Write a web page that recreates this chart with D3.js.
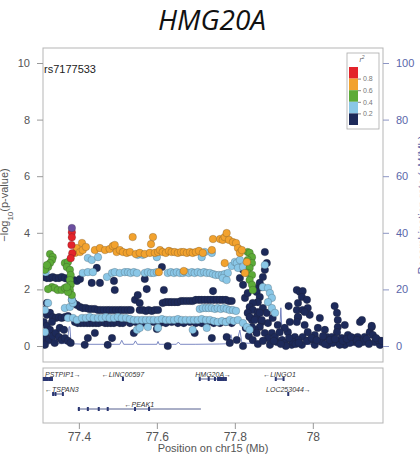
<!DOCTYPE html>
<html>
<head>
<meta charset="utf-8">
<script src="https://cdn.jsdelivr.net/npm/d3@7"></script>
<style>
  body { margin: 0; background: #fff; }
  svg { display: block; font-family: "Liberation Sans", Arial, sans-serif; }
</style>
</head>
<body>
<svg id="chart" width="420" height="462"></svg>
<script>
// SNPs as [position (Mb), -log10 p], split by LD r2 class with the lead SNP
var leadSnp = [[77.382, 4.17]]
var leadName = 'rs7177533'

var ldRed = [[77.382, 4.02], [77.382, 3.84], [77.381, 3.57], [77.383, 3.28], [77.379, 3.10]]

var ldOrange = [
  [77.390, 3.29], [77.395, 3.46], [77.403, 3.32], [77.408, 3.64], [77.410, 3.39], [77.418, 3.50],
  [77.441, 3.39], [77.454, 3.46], [77.467, 3.39], [77.479, 3.43], [77.487, 3.53], [77.492, 3.57],
  [77.497, 3.32], [77.505, 3.39], [77.513, 3.32], [77.523, 3.29], [77.531, 3.32], [77.538, 3.85],
  [77.546, 3.25], [77.556, 3.29], [77.569, 3.25], [77.582, 3.29], [77.585, 3.60], [77.590, 3.85],
  [77.595, 3.29], [77.603, 3.32], [77.608, 3.39], [77.615, 3.32], [77.623, 3.29], [77.631, 3.36],
  [77.638, 3.32], [77.646, 3.32], [77.654, 3.29], [77.662, 3.32], [77.669, 3.32], [77.677, 3.29],
  [77.685, 3.32], [77.692, 3.29], [77.700, 3.32], [77.708, 3.36], [77.718, 3.29], [77.741, 3.39],
  [77.744, 3.78], [77.762, 3.78], [77.769, 3.75], [77.774, 3.85], [77.779, 3.99], [77.785, 3.75],
  [77.795, 3.67], [77.803, 3.64], [77.808, 3.46], [77.813, 3.29], [77.818, 3.39], [77.826, 2.58],
  [77.831, 2.97], [77.774, 2.93], [77.605, 2.61], [77.669, 2.65]
]

var ldGreen = [
  [77.326, 3.25], [77.333, 3.14], [77.331, 3.04], [77.326, 2.93], [77.321, 2.79], [77.313, 2.69], [77.318, 2.86],
  [77.331, 2.08], [77.338, 2.05], [77.346, 1.98], [77.356, 1.98], [77.364, 2.05], [77.321, 2.01],
  [77.364, 2.93], [77.372, 2.97], [77.369, 2.79], [77.377, 2.69], [77.379, 2.51], [77.377, 2.33],
  [77.379, 2.16], [77.377, 1.98], [77.382, 1.80], [77.372, 1.91], [77.369, 2.08],
  [77.833, 3.32], [77.838, 3.29], [77.844, 3.14], [77.833, 3.04], [77.844, 2.93], [77.838, 2.76],
  [77.833, 2.58], [77.844, 2.51], [77.838, 2.33], [77.844, 2.16], [77.846, 1.98]
]

var ldLightBlue = [
  [77.423, 3.11], [77.433, 3.04], [77.449, 3.14], [77.551, 3.22], [77.564, 3.22], [77.600, 3.14],
  [77.715, 3.14], [77.723, 3.32], [77.741, 3.29],
  [77.315, 2.61], [77.410, 2.58], [77.423, 2.61], [77.436, 2.61], [77.472, 2.44], [77.485, 2.58],
  [77.492, 2.61], [77.505, 2.58], [77.518, 2.61], [77.526, 2.61], [77.533, 2.58], [77.541, 2.61],
  [77.549, 2.58], [77.569, 2.58], [77.577, 2.61], [77.585, 2.58], [77.592, 2.58], [77.600, 2.61],
  [77.628, 2.58], [77.636, 2.61], [77.644, 2.58], [77.651, 2.61], [77.659, 2.58], [77.667, 2.58],
  [77.674, 2.61], [77.682, 2.58], [77.690, 2.61], [77.697, 2.58], [77.705, 2.61], [77.713, 2.58],
  [77.721, 2.61], [77.728, 2.58], [77.736, 2.58], [77.744, 2.54], [77.751, 2.51], [77.759, 2.51],
  [77.767, 2.51], [77.774, 2.54], [77.782, 2.58], [77.769, 2.40], [77.779, 2.33], [77.792, 2.83],
  [77.800, 2.97], [77.805, 2.93], [77.813, 3.04], [77.808, 2.76], [77.821, 2.79],
  [77.872, 2.08], [77.885, 2.05], [77.890, 1.87], [77.895, 1.70], [77.885, 1.55], [77.877, 2.86],
  [77.895, 1.34], [77.903, 1.17],
  [77.313, 1.27], [77.321, 1.52], [77.313, 0.49], [77.364, 1.34], [77.377, 1.38], [77.385, 1.52],
  [77.382, 1.63], [77.372, 0.99], [77.385, 0.99], [77.395, 0.92], [77.408, 0.99], [77.418, 0.99],
  [77.428, 1.02], [77.438, 0.99], [77.449, 0.99], [77.459, 0.99], [77.469, 1.02], [77.479, 0.99],
  [77.490, 0.99], [77.500, 1.02], [77.510, 0.99], [77.521, 0.99], [77.531, 0.95], [77.541, 0.92],
  [77.551, 0.92], [77.562, 0.92], [77.572, 0.92], [77.582, 0.92], [77.592, 0.92], [77.603, 0.92],
  [77.613, 0.95], [77.623, 0.92], [77.633, 0.92], [77.644, 0.92], [77.654, 0.95], [77.664, 0.92],
  [77.674, 0.92], [77.685, 0.92], [77.695, 0.92], [77.705, 0.92], [77.715, 0.95], [77.726, 0.92],
  [77.736, 0.92], [77.746, 0.88], [77.756, 0.85], [77.767, 0.88], [77.777, 0.85], [77.787, 0.92],
  [77.797, 0.88], [77.549, 0.57], [77.556, 0.64], [77.577, 0.67], [77.603, 0.64], [77.692, 0.57],
  [77.728, 0.64], [77.808, 0.92], [77.821, 0.81], [77.831, 0.67], [77.838, 0.57],
  [77.710, 1.31], [77.718, 1.34], [77.726, 1.34], [77.733, 1.34], [77.741, 1.34], [77.749, 1.31],
  [77.756, 1.34], [77.764, 1.31], [77.772, 1.34], [77.779, 1.31], [77.787, 1.27], [77.795, 1.27],
  [77.803, 1.24]
]

var ldNavy = [
  // left shoulder
  [77.310, 2.44], [77.318, 2.40], [77.326, 2.40], [77.333, 2.44], [77.341, 2.40], [77.349, 2.40],
  [77.356, 2.44], [77.364, 2.40], [77.372, 2.37], [77.379, 2.37], [77.387, 2.33], [77.395, 2.30],
  [77.403, 2.37],
  [77.318, 1.52], [77.310, 1.27], [77.318, 1.10], [77.326, 1.17], [77.333, 1.02], [77.341, 0.99],
  [77.349, 1.02], [77.356, 0.99], [77.364, 1.02], [77.372, 1.06], [77.310, 0.85], [77.318, 0.71],
  [77.326, 0.57], [77.315, 0.42], [77.310, 0.28], [77.323, 0.21], [77.333, 0.35], [77.341, 0.46],
  [77.349, 0.32], [77.356, 0.21], [77.364, 0.28], [77.372, 0.18], [77.379, 0.11], [77.338, 0.11],
  [77.313, 0.04], [77.351, 0.64], [77.362, 0.57], [77.331, 0.85],
  [77.382, 1.63], [77.387, 1.52], [77.395, 1.45], [77.403, 1.38],
  // middle bands
  [77.410, 1.34], [77.418, 1.34], [77.426, 1.31], [77.433, 1.31], [77.441, 1.31], [77.449, 1.27],
  [77.456, 1.27], [77.464, 1.27], [77.472, 1.27], [77.479, 1.27], [77.487, 1.27], [77.495, 1.27],
  [77.503, 1.27], [77.510, 1.27], [77.518, 1.27], [77.526, 1.27], [77.533, 1.27], [77.556, 1.27],
  [77.564, 1.27], [77.572, 1.24], [77.579, 1.27], [77.587, 1.24], [77.595, 1.27], [77.603, 1.27],
  [77.615, 1.52], [77.623, 1.55], [77.631, 1.55], [77.638, 1.55], [77.646, 1.55], [77.654, 1.55],
  [77.662, 1.59], [77.669, 1.59], [77.677, 1.59], [77.685, 1.59], [77.692, 1.59], [77.700, 1.63],
  [77.708, 1.63], [77.715, 1.63], [77.723, 1.63], [77.731, 1.63], [77.738, 1.63], [77.746, 1.63],
  [77.754, 1.63], [77.762, 1.63], [77.769, 1.63], [77.777, 1.63], [77.785, 1.59], [77.792, 1.59],
  [77.390, 0.85], [77.397, 0.81], [77.405, 0.81], [77.413, 0.81], [77.421, 0.81], [77.428, 0.81],
  [77.436, 0.81], [77.444, 0.81], [77.451, 0.81], [77.459, 0.85], [77.467, 0.81], [77.474, 0.81],
  [77.482, 0.81], [77.490, 0.81], [77.497, 0.85], [77.505, 0.81], [77.513, 0.81], [77.531, 0.81],
  [77.546, 0.85], [77.562, 0.81], [77.577, 0.81], [77.592, 0.85], [77.608, 0.81], [77.623, 0.81],
  [77.638, 0.85], [77.654, 0.81], [77.669, 0.81], [77.685, 0.85], [77.700, 0.81], [77.715, 0.81],
  [77.731, 0.85], [77.746, 0.81], [77.762, 0.81], [77.777, 0.85], [77.792, 0.81],
  [77.446, 2.76], [77.433, 2.23], [77.454, 2.23], [77.490, 2.30], [77.492, 1.98], [77.569, 2.37],
  [77.574, 2.01], [77.613, 2.79], [77.618, 1.98], [77.544, 1.63], [77.551, 1.80], [77.556, 1.52],
  [77.744, 1.94], [77.423, 0.28], [77.441, 0.46], [77.485, 0.28], [77.415, 0.04], [77.541, 0.46],
  [77.600, 0.60], [77.628, 0.00], [77.697, 0.46], [77.741, 0.28], [77.474, 0.04], [77.779, 0.32],
  [77.787, 0.11], [77.805, 0.21], [77.821, 0.00],
  // right cluster
  [77.877, 3.32], [77.882, 2.93], [77.877, 2.69], [77.872, 2.44], [77.864, 2.23], [77.869, 2.08],
  [77.851, 2.05], [77.856, 1.91], [77.864, 1.73], [77.859, 1.55], [77.846, 1.52], [77.838, 1.38],
  [77.846, 1.27], [77.859, 1.20], [77.872, 1.34], [77.882, 1.17], [77.856, 1.02], [77.844, 0.92],
  [77.869, 0.85], [77.885, 0.81], [77.864, 0.67], [77.851, 0.57], [77.877, 0.46], [77.895, 0.46],
  [77.885, 0.28], [77.908, 0.14], [77.921, 0.21], [77.928, 0.11], [77.946, 0.21], [77.954, 0.32],
  [77.936, 0.49], [77.928, 0.64], [77.941, 0.85], [77.962, 1.02], [77.833, 1.17], [77.838, 1.02],
  [77.851, 0.92], [77.844, 0.67], [77.856, 0.46], [77.864, 1.17], [77.869, 0.92], [77.826, 1.70],
  [77.833, 1.87], [77.821, 2.16], [77.813, 2.40], [77.828, 0.64], [77.836, 0.35], [77.846, 0.21],
  [77.859, 0.07], [77.872, 0.18], [77.890, 0.04], [77.903, 0.32], [77.915, 0.49], [77.910, 0.74],
  [77.897, 0.99], [77.938, 1.41], [77.821, 2.69],
  // right tail
  [77.959, 1.98], [77.967, 1.91], [77.974, 1.94], [77.972, 1.73], [77.985, 1.63], [77.962, 1.52],
  [77.959, 1.27], [77.974, 1.27], [77.987, 1.34], [77.992, 1.10], [77.979, 1.20], [77.962, 1.02],
  [77.959, 0.85], [77.979, 0.74], [77.987, 0.49], [77.974, 0.32], [77.962, 0.21], [78.005, 0.39],
  [78.018, 0.99], [78.013, 0.64], [78.031, 0.57], [78.036, 0.32], [78.023, 0.14], [78.056, 1.41],
  [78.062, 1.17], [78.064, 0.92], [78.064, 0.67], [78.082, 0.74], [78.062, 0.49], [78.049, 0.32],
  [78.074, 0.28], [78.090, 0.39], [78.103, 0.28], [78.121, 0.85], [78.115, 0.32], [78.133, 0.32],
  [78.146, 0.49], [78.151, 0.67], [78.154, 0.39], [78.159, 0.14], [78.172, 0.04], [78.141, 0.14],
  [78.082, 0.04], [78.038, 0.04], [78.005, 0.04], [77.972, 0.04], [78.064, 0.14], [78.108, 0.14],
  [78.128, 0.14], [78.126, 0.92], [78.151, 0.71], [77.992, 0.21], [78.095, 0.11], [78.167, 0.21],
  [78.051, 0.11], [77.946, 0.04], [77.931, 0.00], [78.031, 0.07], [78.069, 0.04],
  [77.985, 0.18], [77.997, 0.28], [78.010, 0.21], [78.026, 0.35], [78.044, 0.21], [78.057, 0.25],
  [78.077, 0.18], [78.087, 0.25], [78.098, 0.32], [78.113, 0.21], [78.118, 0.07], [78.138, 0.25],
  [78.144, 0.07], [78.162, 0.28], [78.177, 0.18], [77.949, 0.14], [77.956, 0.07], [77.964, 0.11],
  [77.900, 0.18], [77.918, 0.07], [77.939, 0.28]
]

// recombination rate (cM/Mb)
var recombPos = [77.308, 77.340, 77.370, 77.375, 77.377, 77.380, 77.420, 77.470, 77.505, 77.510, 77.515,
  77.540, 77.545, 77.550, 77.600, 77.603, 77.606, 77.650, 77.655, 77.660, 77.700, 77.760, 77.785,
  77.790, 77.795, 77.805, 77.813, 77.818, 77.830, 77.860, 77.880, 77.905, 77.915, 77.918, 77.922,
  77.935, 77.960, 78.000, 78.050, 78.100, 78.180]
var recombRate = [0.8, 0.8, 0.9, 6.8, 6.8, 0.8, 0.6, 0.6, 0.6, 2.0, 0.6, 0.6, 1.8, 0.6, 0.6, 1.6, 0.6,
  0.6, 1.4, 0.6, 0.6, 0.7, 0.8, 4.0, 1.0, 1.5, 5.6, 1.2, 1.0, 0.8, 3.5, 4.5, 4.5, 13.5, 2.0, 1.0,
  0.6, 0.5, 0.5, 0.4, 0.4]

// genes
var geneNames = ['PSTPIP1', 'TSPAN3', 'LINC00597', 'PEAK1', 'HMG20A', 'LINGO1', 'LOC253044']
var geneStart = [77.310, 77.331, 77.512, 77.397, 77.710, 77.903, 77.936]
var geneEnd = [77.331, 77.359, 77.514, 77.713, 77.779, 77.926, 77.939]
var geneStrand = ['+', '-', '-', '-', '+', '-', '+']
var geneRow = [0, 1, 0, 2, 0, 0, 1]
var geneExons = [
  [77.310, 77.313, 77.316, 77.320, 77.324, 77.328, 77.331],
  [77.334, 77.340, 77.359],
  [77.513],
  [77.400, 77.423, 77.451, 77.474, 77.544, 77.580],
  [77.710, 77.733, 77.749, 77.757, 77.762, 77.767, 77.772, 77.777],
  [77.905, 77.925],
  [77.937]
]

var yTicks = [0, 2, 4, 6, 8, 10]
var recombTicks = [0, 20, 40, 60, 80, 100]
var xTicks = [77.4, 77.6, 77.8, 78]
var legendBreaks = [1, 0.8, 0.6, 0.4, 0.2, 0]
var legendLabels = ['0.8', '0.6', '0.4', '0.2']

var colors = {
  lead: '#6b4f9f',
  red: '#e3232b',
  orange: '#f2a22e',
  green: '#5cab37',
  lightblue: '#8ac7e7',
  navy: '#1d2a5a'
}
var recombColor = '#5d6db4'

var svg = d3.select('#chart')

var plot = { left: 43, right: 383, top: 48, bottom: 362 }
var genePanel = { top: 368, bottom: 423 }

var x = d3.scaleLinear().domain([77.308, 78.18]).range([plot.left, plot.right])
var y = d3.scaleLinear().domain([0, 10]).range([346, 63])
var yRec = d3.scaleLinear().domain([0, 100]).range([346, 63])

// title
svg.append('text')
  .attr('x', 212)
  .attr('y', 30)
  .attr('text-anchor', 'middle')
  .style('font-family', '"Open Sans", sans-serif')
  .style('font-style', 'italic')
  .style('font-size', '28px')
  .attr('fill', '#111')
  .text('HMG20A')

svg.append('defs').append('clipPath')
  .attr('id', 'plotclip')
  .append('rect')
  .attr('x', plot.left).attr('y', plot.top)
  .attr('width', plot.right - plot.left).attr('height', plot.bottom - plot.top)

// panel frames
svg.append('rect')
  .attr('x', plot.left).attr('y', plot.top)
  .attr('width', plot.right - plot.left).attr('height', plot.bottom - plot.top)
  .attr('fill', 'none').attr('stroke', '#b5b5b5').attr('stroke-width', 1)

svg.append('rect')
  .attr('x', plot.left).attr('y', genePanel.top)
  .attr('width', plot.right - plot.left).attr('height', genePanel.bottom - genePanel.top)
  .attr('fill', 'none').attr('stroke', '#b5b5b5').attr('stroke-width', 1)

// axes
var leftAxis = svg.append('g')
  .attr('transform', 'translate(' + plot.left + ',0)')
  .call(d3.axisLeft(y).tickValues(yTicks).tickSizeInner(6).tickSizeOuter(0).tickPadding(7))
leftAxis.select('.domain').remove()
leftAxis.selectAll('line').attr('stroke', '#999')
leftAxis.selectAll('text').attr('fill', '#555').style('font-size', '11px')

var rightAxis = svg.append('g')
  .attr('transform', 'translate(' + plot.right + ',0)')
  .call(d3.axisRight(yRec).tickValues(recombTicks).tickSizeInner(6).tickSizeOuter(0).tickPadding(7))
rightAxis.select('.domain').remove()
rightAxis.selectAll('line').attr('stroke', '#8d96c4')
rightAxis.selectAll('text').attr('fill', '#5a66aa').style('font-size', '11px')

var bottomAxis = svg.append('g')
  .attr('transform', 'translate(0,' + genePanel.bottom + ')')
  .call(d3.axisBottom(x).tickValues(xTicks).tickFormat(d3.format('')).tickSizeInner(6).tickSizeOuter(0).tickPadding(3))
bottomAxis.select('.domain').remove()
bottomAxis.selectAll('line').attr('stroke', '#999')
bottomAxis.selectAll('text').attr('fill', '#555').style('font-size', '12px')

svg.append('text')
  .attr('x', 213).attr('y', 452)
  .attr('text-anchor', 'middle')
  .attr('fill', '#555')
  .style('font-size', '11px')
  .text('Position on chr15 (Mb)')

var ylab = svg.append('text')
  .attr('transform', 'translate(8,205) rotate(-90)')
  .attr('text-anchor', 'middle')
  .attr('fill', '#555')
  .style('font-size', '11px')
ylab.append('tspan').text('\u2212log')
ylab.append('tspan').attr('baseline-shift', 'sub').style('font-size', '8px').text('10')
ylab.append('tspan').text('(p-value)')

svg.append('text')
  .attr('transform', 'translate(426,205) rotate(-90)')
  .attr('text-anchor', 'middle')
  .attr('fill', '#5a66aa')
  .style('font-size', '11px')
  .text('Recombination rate (cM/Mb)')

// recombination line
var recomb = recombPos.map(function (p, i) { return [p, recombRate[i]] })
svg.append('path')
  .datum(recomb)
  .attr('clip-path', 'url(#plotclip)')
  .attr('fill', 'none')
  .attr('stroke', recombColor)
  .attr('stroke-opacity', 0.8)
  .attr('stroke-width', 1)
  .attr('d', d3.line().x(d => x(d[0])).y(d => yRec(d[1])))

// points
var pts = svg.append('g').attr('clip-path', 'url(#plotclip)')
var groups = [
  [ldNavy, colors.navy],
  [ldLightBlue, colors.lightblue],
  [ldGreen, colors.green],
  [ldOrange, colors.orange],
  [ldRed, colors.red],
  [leadSnp, colors.lead]
]
groups.forEach(function (g) {
  pts.append('g').selectAll('circle')
    .data(g[0])
    .join('circle')
    .attr('cx', d => x(d[0]))
    .attr('cy', d => y(d[1]))
    .attr('r', 3.8)
    .attr('fill', g[1])
    .attr('stroke', 'rgba(30,30,30,0.4)')
    .attr('stroke-width', 0.5)
})

svg.append('text')
  .attr('x', plot.left + 1).attr('y', 73)
  .attr('fill', '#222')
  .style('font-size', '11px')
  .text(leadName)

// legend
svg.append('rect')
  .attr('x', 347).attr('y', 53).attr('width', 32).attr('height', 76)
  .attr('fill', '#fff').attr('stroke', '#aaa').attr('stroke-width', 0.8)
var leg = d3.scaleLinear().domain([1, 0]).range([67, 125])
var legendColors = [colors.red, colors.orange, colors.green, colors.lightblue, colors.navy]
svg.append('g').selectAll('rect')
  .data(legendColors)
  .join('rect')
  .attr('x', 349)
  .attr('y', (d, i) => leg(legendBreaks[i]))
  .attr('width', 9)
  .attr('height', (d, i) => leg(legendBreaks[i + 1]) - leg(legendBreaks[i]))
  .attr('fill', d => d)
var legAxis = svg.append('g')
  .attr('transform', 'translate(358,0)')
  .call(d3.axisRight(leg).tickValues([0.8, 0.6, 0.4, 0.2]).tickFormat((d, i) => legendLabels[i]).tickSizeInner(3).tickSizeOuter(0).tickPadding(2))
legAxis.select('.domain').remove()
legAxis.selectAll('line').attr('stroke', '#888')
legAxis.selectAll('text').attr('fill', '#777').style('font-size', '7px')
var r2 = svg.append('text')
  .attr('x', 362).attr('y', 62)
  .attr('text-anchor', 'middle')
  .attr('fill', '#666')
  .style('font-size', '7px')
  .style('font-style', 'italic')
r2.append('tspan').text('r')
r2.append('tspan').attr('baseline-shift', 'super').style('font-size', '5px').text('2')

// genes
var geneColor = '#2a3672'
var rowY = d3.scaleLinear().domain([0, 2]).range([379, 409])
var genes = svg.append('g')
geneNames.forEach(function (name, i) {
  var gy = rowY(geneRow[i])
  genes.append('line')
    .attr('x1', x(geneStart[i])).attr('x2', x(geneEnd[i]))
    .attr('y1', gy).attr('y2', gy)
    .attr('stroke', geneColor).attr('stroke-width', 0.8)
  genes.selectAll(null)
    .data(geneExons[i])
    .join('rect')
    .attr('x', d => x(d) - 1)
    .attr('y', gy - 2)
    .attr('width', 2)
    .attr('height', 4)
    .attr('fill', geneColor)
  var label = geneStrand[i] == '+' ? name + '\u2192' : '\u2190' + name
  var cx = (x(geneStart[i]) + x(geneEnd[i])) / 2
  var t = genes.append('text')
    .attr('y', gy - 2.5)
    .attr('fill', '#333')
    .style('font-size', '7px')
    .style('font-style', 'italic')
    .text(label)
  var w = t.node().getComputedTextLength()
  var lx = Math.max(plot.left + 2, cx - w / 2)
  t.attr('x', lx)
})
</script>
</body>
</html>
